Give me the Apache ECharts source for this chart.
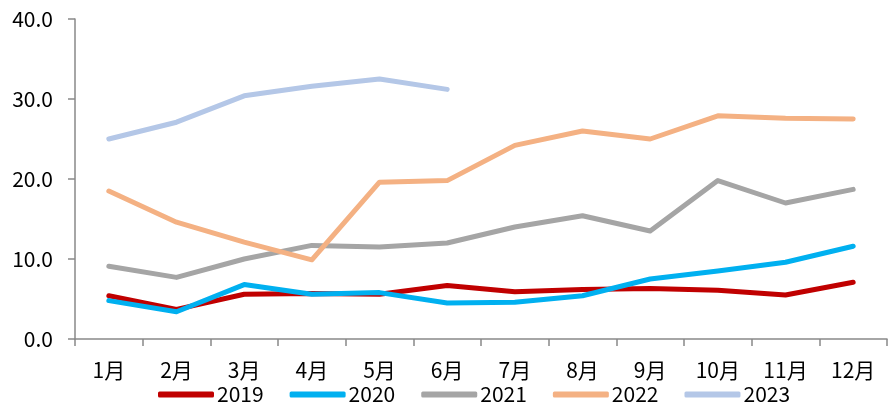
<!DOCTYPE html>
<html>
<head>
<meta charset="utf-8">
<script src="https://cdn.jsdelivr.net/npm/echarts@6/dist/echarts.min.js"></script>
<style>
  html, body { margin: 0; padding: 0; background: #fff; }
  #chart { width: 889px; height: 402px; }
</style>
</head>
<body>
<div id="chart"></div>
<script>
// 月份
const months = ['1月', '2月', '3月', '4月', '5月', '6月', '7月', '8月', '9月', '10月', '11月', '12月']

const data2019 = [5.4, 3.7, 5.6, 5.7, 5.6, 6.7, 5.9, 6.2, 6.3, 6.1, 5.5, 7.1]
const data2020 = [4.8, 3.4, 6.8, 5.6, 5.8, 4.5, 4.6, 5.4, 7.5, 8.5, 9.6, 11.6]
const data2021 = [9.1, 7.7, 10.0, 11.7, 11.5, 12.0, 14.0, 15.4, 13.5, 19.8, 17.0, 18.7]
const data2022 = [18.5, 14.6, 12.1, 9.9, 19.6, 19.8, 24.2, 26.0, 25.0, 27.9, 27.6, 27.5]
const data2023 = [25.0, 27.1, 30.4, 31.6, 32.5, 31.2]

const seriesNames = ['2019', '2020', '2021', '2022', '2023']
const seriesColors = ['#C00000', '#00B0F0', '#A5A5A5', '#F4B183', '#B4C7E7']
const seriesData = [data2019, data2020, data2021, data2022, data2023]

const font = '"Noto Sans CJK SC", "Noto Sans", sans-serif'

const chart = echarts.init(document.getElementById('chart'))
chart.setOption({
  animation: false,
  color: seriesColors,
  grid: { left: 75, right: 2, top: 19, bottom: 63 },
  legend: {
    data: seriesNames,
    left: 153,
    top: 379,
    icon: 'roundRect',
    itemWidth: 56,
    itemHeight: 6,
    itemGap: 26,
    textStyle: { fontFamily: font, fontSize: 21, color: '#000', padding: [0, 0, 0, -2] }
  },
  xAxis: {
    type: 'category',
    data: months,
    boundaryGap: true,
    axisLine: { lineStyle: { color: '#898989', width: 1.5 } },
    axisTick: { show: true, length: 7, lineStyle: { color: '#898989', width: 1.5 } },
    axisLabel: { fontFamily: font, fontSize: 21, color: '#000', margin: 21 }
  },
  yAxis: {
    type: 'value',
    min: 0,
    max: 40,
    interval: 10,
    splitLine: { show: false },
    axisLine: { show: true, lineStyle: { color: '#898989', width: 1.5 } },
    axisTick: { show: true, length: 7, lineStyle: { color: '#898989', width: 1.5 } },
    axisLabel: {
      fontFamily: font, fontSize: 21, color: '#000', margin: 22,
      formatter: v => v.toFixed(1)
    }
  },
  series: seriesNames.map((name, i) => ({
    name: name,
    type: 'line',
    data: seriesData[i],
    symbol: 'none',
    lineStyle: { width: 5, cap: 'round', join: 'round' }
  }))
})
</script>
</body>
</html>
